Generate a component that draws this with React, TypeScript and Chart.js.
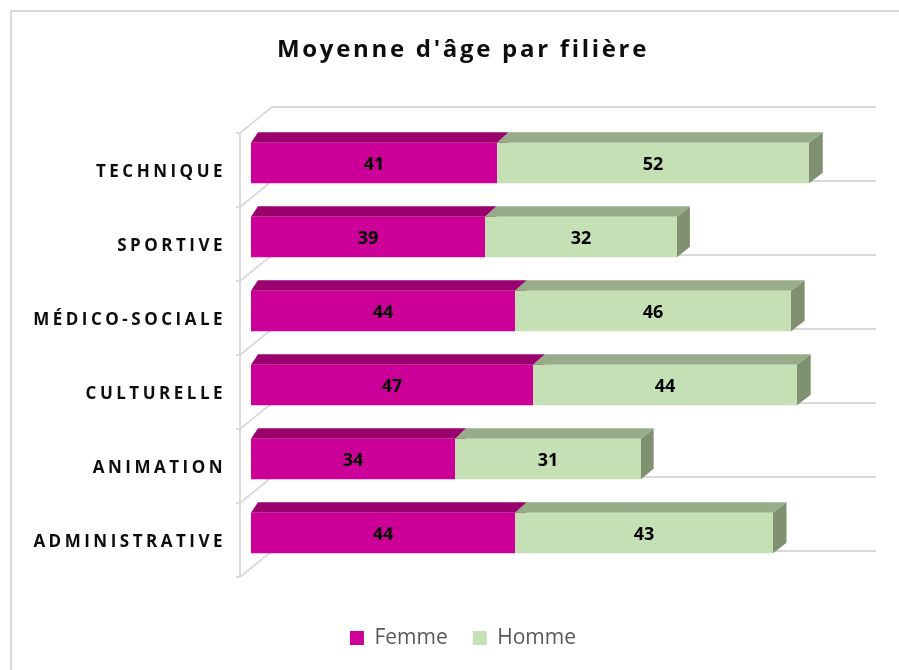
import React, { useEffect, useRef } from 'react';
import { Chart, registerables } from 'chart.js';

Chart.register(...registerables);

// ---- data ----
const chartTitle = "Moyenne d'âge par filière";
const categories = ['TECHNIQUE', 'SPORTIVE', 'MÉDICO-SOCIALE', 'CULTURELLE', 'ANIMATION', 'ADMINISTRATIVE'];
const seriesNames = ['Femme', 'Homme'];
const femme = [41, 39, 44, 47, 34, 44];
const homme = [52, 32, 46, 44, 31, 43];
const axisMin = 0;
const axisMax = 100; // end of the back wall
const scaleMax = 108; // plotted range (extends to the canvas edge)

// ---- styles ----
const FONT = "'Open Sans', 'DejaVu Sans', sans-serif";
const frontColors = ['#CC0099', '#C5E0B4'];
const topColors = ['#9B006F', '#97AC88'];
const sideColors = ['#85005F', '#7F9170'];
const gridColor = '#d9d9d9';

const W = 899;
const H = 670;

// 3D geometry (pixels relative to the bar plane)
const FRONT_DX = -11;
const FRONT_DY = 7;
const BACK_DX = 21;
const BACK_DY = -19;
const BACK_RIGHT_DX = 25;
const BAR_DY = 10.5;

const threeD = {
  id: 'threeD',
  beforeDraw(chart: any) {
    const ctx = chart.ctx;
    const ys = chart.scales.y;
    if (ys && !ys.__ls) {
      const orig = ys.drawLabels.bind(ys);
      ys.drawLabels = (a: any) => {
        ctx.save();
        (ctx as any).letterSpacing = '3.5px';
        orig(a);
        ctx.restore();
      };
      ys.__ls = true;
    }
    const tb = chart.titleBlock;
    if (tb && !tb.__ls) {
      const origT = tb.draw.bind(tb);
      tb.draw = (a: any) => {
        ctx.save();
        (ctx as any).letterSpacing = '2.7px';
        origT(a);
        ctx.restore();
      };
      tb.__ls = true;
    }
  },
  beforeDatasetsDraw(chart: any) {
    const ctx = chart.ctx;
    const area = chart.chartArea;
    const xs = chart.scales.x;
    const ys = chart.scales.y;
    const n = categories.length;
    const boundary = (k: number) => ys.getPixelForValue(k - 0.5);
    const xRight = xs.getPixelForValue(axisMax);
    ctx.save();
    ctx.strokeStyle = gridColor;
    ctx.lineWidth = 1.8;
    ctx.lineCap = 'butt';
    for (let k = 0; k <= n; k++) {
      const b = boundary(k);
      ctx.beginPath();
      ctx.moveTo(area.left + BACK_DX, b + BACK_DY);
      ctx.lineTo(xRight + BACK_RIGHT_DX, b + BACK_DY);
      ctx.stroke();
      ctx.beginPath();
      ctx.moveTo(area.left + FRONT_DX, b + FRONT_DY);
      ctx.lineTo(area.left + BACK_DX, b + BACK_DY);
      ctx.stroke();
      ctx.beginPath();
      ctx.moveTo(area.left + FRONT_DX - 4, b + FRONT_DY);
      ctx.lineTo(area.left + FRONT_DX, b + FRONT_DY);
      ctx.stroke();
    }
    ctx.beginPath();
    ctx.moveTo(area.left + FRONT_DX, boundary(0) + FRONT_DY);
    ctx.lineTo(area.left + FRONT_DX, boundary(n) + FRONT_DY);
    ctx.stroke();

    const span = xRight - area.left;
    const dxAt = (x: number) => {
      const t = Math.max(0, Math.min(1, (x - area.left) / span));
      return 7 + 7 * Math.sqrt(t);
    };
    chart.data.datasets.forEach((ds: any, i: number) => {
      const meta = chart.getDatasetMeta(i);
      meta.data.forEach((el: any) => {
        const p = el.getProps(['x', 'y', 'base', 'height'], true);
        const x0 = Math.min(p.x, p.base);
        const x1 = Math.max(p.x, p.base);
        const yTop = p.y - p.height / 2;
        const yBot = p.y + p.height / 2;
        const d0 = dxAt(x0);
        const d1 = dxAt(x1);
        ctx.fillStyle = sideColors[i];
        ctx.beginPath();
        ctx.moveTo(x1, yTop);
        ctx.lineTo(x1 + d1, yTop - BAR_DY);
        ctx.lineTo(x1 + d1, yBot - BAR_DY);
        ctx.lineTo(x1, yBot);
        ctx.closePath();
        ctx.fill();
        ctx.fillStyle = topColors[i];
        ctx.beginPath();
        ctx.moveTo(x0, yTop);
        ctx.lineTo(x1, yTop);
        ctx.lineTo(x1 + d1, yTop - BAR_DY);
        ctx.lineTo(x0 + d0, yTop - BAR_DY);
        ctx.closePath();
        ctx.fill();
      });
    });
    ctx.restore();
  },
  afterDatasetsDraw(chart: any) {
    const ctx = chart.ctx;
    ctx.save();
    ctx.font = `bold 18px ${FONT}`;
    ctx.fillStyle = '#000000';
    ctx.textAlign = 'center';
    ctx.textBaseline = 'middle';
    chart.data.datasets.forEach((ds: any, i: number) => {
      const meta = chart.getDatasetMeta(i);
      meta.data.forEach((el: any, j: number) => {
        const p = el.getProps(['x', 'y', 'base'], true);
        ctx.fillText(String(ds.data[j]), (p.x + p.base) / 2, p.y + 2);
      });
    });
    ctx.restore();
  },
};

export default function App() {
  const ref = useRef<HTMLCanvasElement | null>(null);

  useEffect(() => {
    if (!ref.current) return;
    const chart = new Chart(ref.current, {
      type: 'bar',
      data: {
        labels: categories,
        datasets: [
          {
            label: seriesNames[0],
            data: femme,
            backgroundColor: frontColors[0],
            borderWidth: 0,
            barPercentage: 0.55,
            categoryPercentage: 1,
          },
          {
            label: seriesNames[1],
            data: homme,
            backgroundColor: frontColors[1],
            borderWidth: 0,
            barPercentage: 0.55,
            categoryPercentage: 1,
          },
        ],
      },
      options: {
        indexAxis: 'y',
        responsive: false,
        animation: false,
        layout: { padding: { left: 27, right: 0, top: 0, bottom: 11.5 } },
        scales: {
          x: {
            stacked: true,
            min: axisMin,
            max: scaleMax,
            ticks: { display: false },
            grid: { display: false, drawTicks: false },
            border: { display: false },
            afterFit: (s: any) => {
              s.height = 32.5;
            },
          },
          y: {
            stacked: true,
            ticks: {
              padding: 25,
              labelOffset: 9,
              color: '#0d0d0d',
              font: { family: FONT, size: 17, weight: 'bold' },
            },
            grid: { display: false, drawTicks: false },
            border: { display: false },
            afterFit: (s: any) => {
              s.width = 224;
            },
          },
        },
        plugins: {
          title: {
            display: true,
            text: chartTitle,
            color: '#0d0d0d',
            font: { family: FONT, size: 24, weight: 'bold' },
            padding: { top: 36, bottom: 61.2 },
          },
          legend: {
            display: true,
            position: 'bottom',
            labels: {
              boxWidth: 14,
              boxHeight: 14,
              padding: 25,
              color: '#595959',
              font: { family: FONT, size: 21 },
            },
          },
          tooltip: { enabled: false },
        },
      },
      plugins: [threeD],
    } as any);
    return () => chart.destroy();
  }, []);

  return (
    <div
      style={{
        position: 'fixed',
        left: 0,
        top: 0,
        width: W,
        height: H,
        overflow: 'hidden',
        background: '#ffffff',
      }}
    >
      <div
        style={{
          position: 'absolute',
          left: 10,
          top: 10,
          width: 1000,
          height: 1000,
          border: '2px solid #d9d9d9',
        }}
      />
      <canvas ref={ref} width={W} height={H} style={{ position: 'absolute', left: 0, top: 0 }} />
    </div>
  );
}
